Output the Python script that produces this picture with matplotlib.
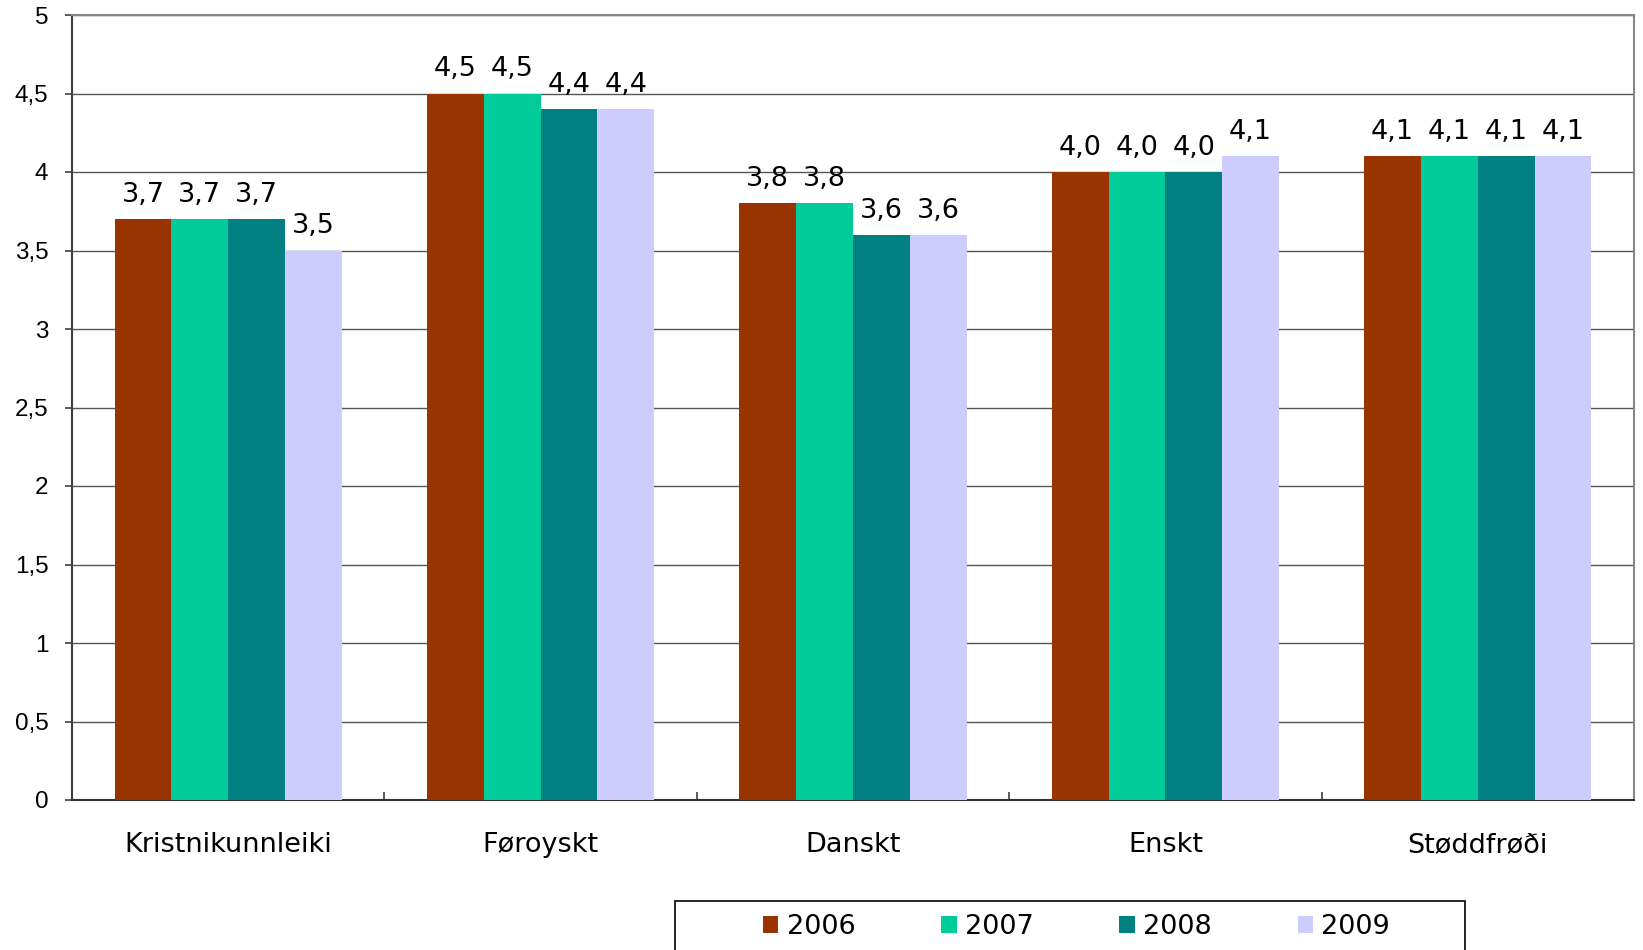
import numpy as np
import matplotlib
matplotlib.use('Agg')
import matplotlib.pyplot as plt
from matplotlib import ticker
from matplotlib.patches import Patch, Rectangle

categories = ['Kristnikunnleiki', 'Føroyskt', 'Danskt', 'Enskt', 'Støddfrøði']
years = ['2006', '2007', '2008', '2009']
v2006 = [3.7, 4.5, 3.8, 4.0, 4.1]
v2007 = [3.7, 4.5, 3.8, 4.0, 4.1]
v2008 = [3.7, 4.4, 3.6, 4.0, 4.1]
v2009 = [3.5, 4.4, 3.6, 4.1, 4.1]
series = [v2006, v2007, v2008, v2009]
colors = ['#993300', '#00CC99', '#008080', '#CCCCFF']

plt.rcParams['font.family'] = ['DejaVu Sans']

fig = plt.figure(figsize=(16.43, 9.5), dpi=100)
ax = fig.add_axes([72/1643, 1 - 800/950, (1634 - 72)/1643, (800 - 15)/950])

x = np.arange(len(categories))
w = 0.727 / 4
for i, (vals, c) in enumerate(zip(series, colors)):
    bars = ax.bar(x + (i - 1.5)*w, vals, w, color=c, zorder=3)
    ax.bar_label(bars, labels=[f'{v:.1f}'.replace('.', ',') for v in vals],
                 padding=8, fontsize=19.5)

ax.set_xlim(-0.5, len(categories) - 0.5)
ax.set_ylim(0, 5)

ax.yaxis.set_major_locator(ticker.MultipleLocator(0.5))
ax.yaxis.set_major_formatter(ticker.FuncFormatter(
    lambda v, p: ('%g' % v).replace('.', ',')))
ax.tick_params(axis='y', direction='out', length=5, width=1.2, color='#404040',
               pad=12, labelsize=17.5)
for lab in ax.get_yticklabels():
    lab.set_family('Liberation Sans')
ax.grid(axis='y', color='#555555', lw=1.0, zorder=0)

ax.set_xticks(x)
ax.set_xticklabels(categories, fontsize=19.5)
ax.tick_params(axis='x', which='major', length=0, pad=23)
ax.xaxis.set_minor_locator(ticker.FixedLocator(x[:-1] + 0.5))
ax.tick_params(axis='x', which='minor', direction='in', length=6, width=1.2,
               color='#404040')

ax.spines['left'].set_color('#404040')
ax.spines['left'].set_linewidth(1.5)
ax.spines['bottom'].set_color('#303030')
ax.spines['bottom'].set_linewidth(1.5)
ax.spines['top'].set_color('#888888')
ax.spines['top'].set_linewidth(1.5)
ax.spines['right'].set_color('#888888')
ax.spines['right'].set_linewidth(1.5)

# legend box, runs off the bottom edge like the original
fig.patches.append(Rectangle((675/1643, -0.05), (1465 - 675)/1643, 0.05 + 1 - 901/950,
                             transform=fig.transFigure, fill=False,
                             edgecolor='black', lw=1.2))
handles = [Patch(facecolor=c, edgecolor='none') for c in colors]
fig.legend(handles, years, loc='center left', bbox_to_anchor=(763/1643, 1 - 927/950),
           ncol=4, frameon=False, fontsize=19.5, borderpad=0, borderaxespad=0,
           handlelength=0.57, handleheight=0.57, handletextpad=0.3,
           columnspacing=3.17)

fig.savefig('out.png', dpi=100)
